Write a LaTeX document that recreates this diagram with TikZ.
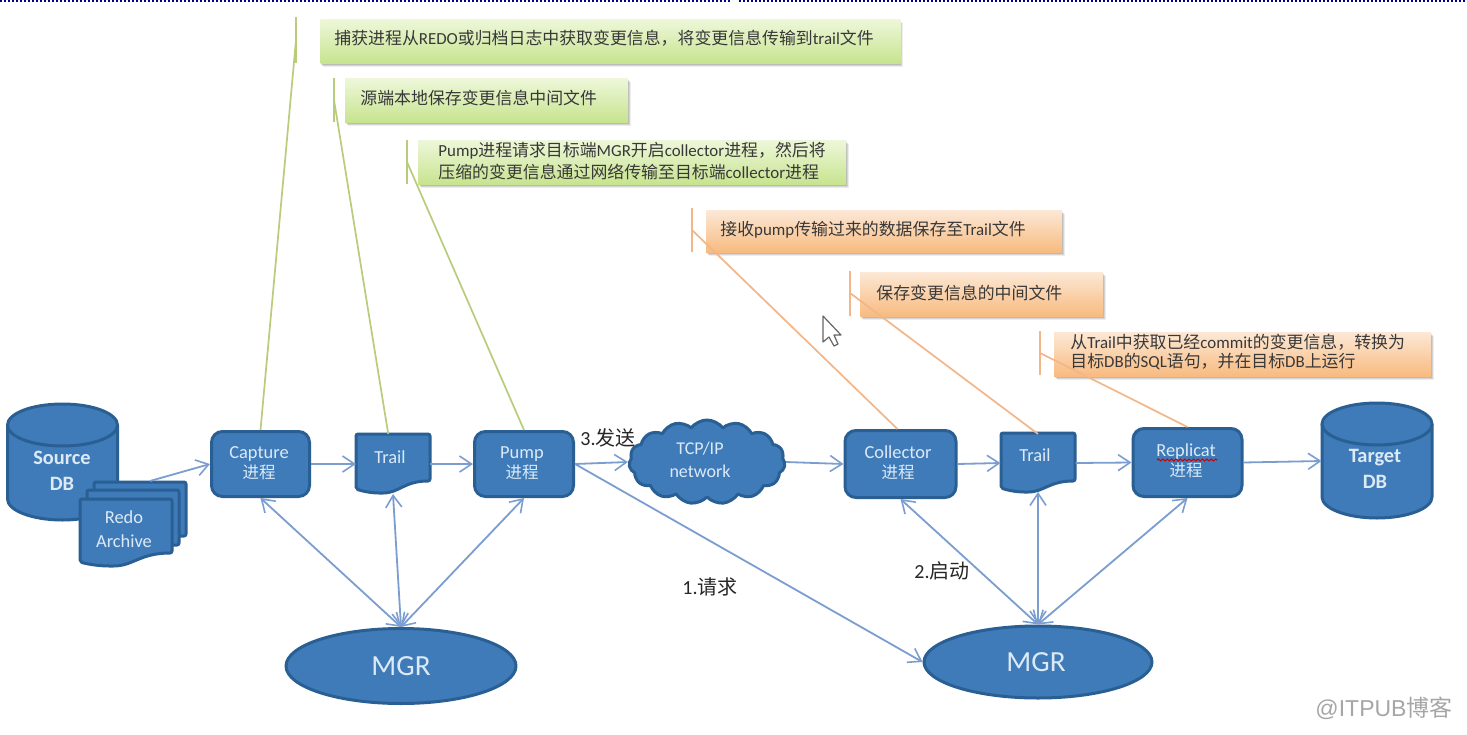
\documentclass[tikz,border=0pt]{standalone}
\usepackage{fontspec}
\setmainfont{Carlito}
\newfontfamily\cjk{Noto Sans CJK SC}
\newfontfamily\wmfont{Liberation Sans}
\usetikzlibrary{arrows.meta,shapes.geometric,shapes.symbols,shadows,decorations.pathmorphing,calc}
\definecolor{bfill}{HTML}{3F7BB9}
\definecolor{bline}{HTML}{2A5F94}
\definecolor{conn}{HTML}{7C9DD0}
\definecolor{gleader}{HTML}{B9CC7C}
\definecolor{oleader}{HTML}{F2B688}
\definecolor{ntext}{HTML}{DCEAF6}
\newcommand{\zh}[1]{{\cjk\fontsize{8.25}{8.25}\selectfont #1}}
\newcommand{\zhc}[1]{{\cjk\fontsize{8.45}{8.45}\selectfont #1}}
\newcommand{\sz}[1]{\fontsize{#1}{#1}\selectfont}
\newcommand{\cyl}[5]{% cx rx ytop ybot ry
  \draw[shapestyle]
    ({#1-#2},#3) -- ({#1-#2},#4)
    .. controls ({#1-#2},{#4+.55*#5}) and ({#1-.55*#2},{#4+#5}) .. (#1,{#4+#5})
    .. controls ({#1+.55*#2},{#4+#5}) and ({#1+#2},{#4+.55*#5}) .. ({#1+#2},#4)
    -- ({#1+#2},#3) -- cycle;
  \draw[shapestyle] (#1,#3) ellipse [x radius=#2,y radius=#5];
}
\newcommand{\docshape}[5]{% x0 x1 ytop yrightbottom yleftbottom
  \draw[shapestyle,rounded corners=1pt]
    (#1,#3) -- (#2,#3) -- (#2,#4)
    .. controls ({#2-.35*(#2-#1)},#4) and ({#2-.42*(#2-#1)},{#5+4}) .. ({#2-.66*(#2-#1)},{#5+4})
    .. controls ({#2-.8*(#2-#1)},{#5+4}) and ({#2-.92*(#2-#1)},{#5+2}) .. (#1,#5) -- cycle;
}
\tikzset{
  x=0.5pt,y=-0.5pt,
  shapestyle/.style={draw=bline,fill=bfill,line width=1.5pt,line join=round},
  procbox/.style={shapestyle,rectangle,rounded corners=5.5pt,inner sep=0pt},
  holder/.style={rectangle,inner sep=0pt,outer sep=0pt},
  nlabel/.style={text=ntext,align=center,inner sep=0pt,font=\sz{9.2}},
  mgrnode/.style={shapestyle,ellipse,inner sep=0pt,text=ntext,font=\sz{14.6}},
  flow/.style={draw=conn,line width=.9pt,-{Straight Barb[length=6pt,width=8pt,line width=.8pt]}},
  both/.style={draw=conn,line width=.9pt,{Straight Barb[length=6pt,width=8pt,line width=.8pt]}-{Straight Barb[length=6pt,width=8pt,line width=.8pt]}},
  calloutbase/.style={rectangle,inner sep=0pt,
     drop shadow={shadow xshift=1.3pt,shadow yshift=-2pt,fill=black,opacity=.07},
     drop shadow={shadow xshift=.9pt,shadow yshift=-1.4pt,fill=black,opacity=.1},
     drop shadow={shadow xshift=.4pt,shadow yshift=-.8pt,fill=black,opacity=.12}},
  greenbox/.style={calloutbase,top color=gt,bottom color=gb},
  orangebox/.style={calloutbase,top color=ot,bottom color=ob},
  ctext/.style={anchor=west,inner sep=0pt,text=black!78,align=left,font=\sz{8.45}},
  gbar/.style={draw=gleader,line width=.85pt},
  obar/.style={draw=oleader,line width=.85pt},
  steplabel/.style={inner sep=0pt,text=black!85,font=\sz{10}},
}
\definecolor{gt}{HTML}{EEF7DA}
\definecolor{gb}{HTML}{C7E48F}
\definecolor{ot}{HTML}{FCE8D6}
\definecolor{ob}{HTML}{F8BB80}
\begin{document}
\begin{tikzpicture}
\useasboundingbox (0,0) rectangle (1467,734);
\fill[white] (0,0) rectangle (1467,734);
% top dotted edge
\draw[blue!55!black,line width=1pt,dash pattern=on 1pt off 1pt] (0,1) -- (731,1);
\draw[blue!55!black,line width=1pt,dash pattern=on 1pt off 1pt] (739,1) -- (1467,1);

% callouts
\node[greenbox,minimum width=290pt,minimum height=22pt] (g1) at (610.5,41) {};
\node[greenbox,minimum width=141.5pt,minimum height=22pt] (g2) at (486.5,100) {};
\node[greenbox,minimum width=214pt,minimum height=22pt] (g3) at (632,162) {};
\node[orangebox,minimum width=178pt,minimum height=21pt] (o1) at (884,231) {};
\node[orangebox,minimum width=121.5pt,minimum height=22pt] (o2) at (981.5,294) {};
\node[orangebox,minimum width=188.5pt,minimum height=22pt] (o3) at (1242.5,354) {};
\node[ctext] (g1t) at (334,38) {\zhc{捕获进程从}REDO\zhc{或归档日志中获取变更信息，将变更信息传输到}trail\zhc{文件}};
\node[ctext] (g2t) at (360,98) {\zhc{源端本地保存变更信息中间文件}};
\node[ctext] (g3t) at (438,161) {Pump\zhc{进程请求目标端}MGR\zhc{开启}collector\zhc{进程，然后将}\\[1pt]\zhc{压缩的变更信息通过网络传输至目标端}collector\zhc{进程}};
\node[ctext] (o1t) at (720,230) {\zhc{接收}pump\zhc{传输过来的数据保存至}Trail\zhc{文件}};
\node[ctext] (o2t) at (876,293) {\zhc{保存变更信息的中间文件}};
\node[ctext] (o3t) at (1070,352) {\zhc{从}Trail\zhc{中获取已经}commit\zhc{的变更信息，转换为}\\[1pt]\zhc{目标}DB\zhc{的}SQL\zhc{语句，并在目标}DB\zhc{上运行}};

% callout accent bars
\coordinate (b1a) at (296,17); \coordinate (b1b) at (296,63); \coordinate (b1m) at (296,40);
\coordinate (b2a) at (334,78); \coordinate (b2b) at (334,122); \coordinate (b2m) at (334,100);
\coordinate (b3a) at (407,140); \coordinate (b3b) at (407,184); \coordinate (b3m) at (407,162);
\coordinate (b4a) at (692,208); \coordinate (b4b) at (692,252); \coordinate (b4m) at (692,230);
\coordinate (b5a) at (850,271); \coordinate (b5b) at (850,316); \coordinate (b5m) at (850,293);
\coordinate (b6a) at (1040,331); \coordinate (b6b) at (1040,375); \coordinate (b6m) at (1040,353);
\draw[gbar] (b1a) -- (b1b); \draw[gbar] (b2a) -- (b2b); \draw[gbar] (b3a) -- (b3b);
\draw[obar] (b4a) -- (b4b); \draw[obar] (b5a) -- (b5b); \draw[obar] (b6a) -- (b6b);

% process nodes
\node[procbox,minimum width=49pt,minimum height=32.5pt] (capture) at (260.5,464) {};
\node[procbox,minimum width=49.5pt,minimum height=32.5pt] (pump) at (524,464) {};
\node[procbox,minimum width=55.5pt,minimum height=33.5pt] (collector) at (900.5,464) {};
\node[procbox,minimum width=54.5pt,minimum height=34pt] (replicat) at (1187.5,462.5) {};

% databases
\cyl{62.5}{55}{425}{499}{21}
\cyl{1377}{55}{424}{497}{21}
\node[holder,minimum width=55.5pt,minimum height=58pt] (source) at (62.5,462) {};
\node[holder,minimum width=55.5pt,minimum height=57.5pt] (target) at (1377,461) {};
\node[nlabel,font=\sz{10.2}\bfseries] (sourcet) at (62,471) {Source\\[3pt]DB};
\node[nlabel,font=\sz{10.2}\bfseries] (targett) at (1375,469) {Target\\[3pt]DB};

% documents
\docshape{356}{430}{434}{481}{489}
\docshape{1001}{1075}{433}{481}{488}
\node[holder,minimum width=37pt,minimum height=30pt] (trailA) at (393,464) {};
\node[holder,minimum width=37.5pt,minimum height=29pt] (trailB) at (1038,463) {};
\node[nlabel] (trailAt) at (390,457) {Trail};
\node[nlabel] (trailBt) at (1035,455) {Trail};

% redo stack
\docshape{94}{186}{482}{536}{536}
\docshape{87}{179}{490}{545}{545}
\docshape{80}{172}{499}{553}{562}
\node[holder,minimum width=46pt,minimum height=34pt] (redo) at (126,532) {};
\node[nlabel] (redot) at (124,529) {Redo\\[2.5pt]Archive};
\coordinate (redoOut) at (150,481);

% cloud
\node[shapestyle,cloud,cloud puffs=15,cloud puff arc=105,aspect=1.95,inner sep=0pt,minimum width=78pt,minimum height=42pt] (net) at (707,462) {};
\node[nlabel,font=\sz{9}] (nett) at (700,460) {TCP/IP\\[2.5pt]network};

% process labels
\node[nlabel] (capturet) at (259,463) {Capture\\[1pt]\zh{进程}};
\node[nlabel] (pumpt) at (522,463) {Pump\\[1pt]\zh{进程}};
\node[nlabel] (collectort) at (898,463) {Collector\\[1pt]\zh{进程}};
\node[nlabel] (replicatt) at (1186,461) {Replicat\\[1pt]\zh{进程}};
\draw[red!80!black,line width=.5pt,decorate,decoration={snake,amplitude=.5pt,segment length=2.2pt}] (1157,460) -- (1217,460);

% MGR
\node[mgrnode,minimum width=115pt,minimum height=37.5pt] (mgrA) at (401,666) {MGR};
\node[mgrnode,minimum width=114pt,minimum height=36pt] (mgrB) at (1038,662) {\hspace{-2pt}MGR};

% leaders
\draw[gbar] (b1m) -- (capture.north);
\draw[gbar] (b2m) -- (trailA.99.5);
\draw[gbar] (b3m) -- (pump.north);
\draw[obar] (b4m) -- (collector.95);
\draw[obar] (b5m) -- (trailB.north);
\draw[obar] (b6m) -- (replicat.north);

% flow connectors
\draw[flow] (redoOut) -- (capture.west);
\draw[flow] (capture.east) -- (trailA.west);
\draw[flow] (trailA.east) -- (pump.west);
\draw[flow] (pump.east) -- (net.west);
\draw[flow] (net.east) -- (collector.west);
\draw[flow] (collector.east) -- (trailB.west);
\draw[flow] (trailB.east) -- (replicat.west);
\draw[flow] (replicat.east) -- (target.west);
\draw[flow] (pump.east) -- (mgrB.west);
\draw[both] (capture.south) -- (mgrA.north);
\draw[both] (trailA.south) -- (mgrA.north);
\draw[both] (pump.south) -- (mgrA.north);
\draw[both] (collector.south) -- (mgrB.north);
\draw[both] (trailB.south) -- (mgrB.north);
\draw[both] (replicat.south) -- (mgrB.north);

% step labels
\node[steplabel] (s3) at (608,438) {3.{\cjk 发送}};
\node[steplabel] (s1) at (710,587) {1.{\cjk 请求}};
\node[steplabel] (s2) at (942,571) {2.{\cjk 启动}};

% mouse cursor
\draw[fill=white,draw=black!60,line width=.6pt,line join=round]
  (823,316) -- (823,342) -- (829,337) -- (834,346) -- (838,344) -- (834,335) -- (841,335) -- cycle;

% watermark
\node[inner sep=0pt,text=black!35,font=\sz{11.5}\wmfont] (wm) at (1384,708) {@ITPUB{\cjk 博客}};
\end{tikzpicture}
\end{document}
